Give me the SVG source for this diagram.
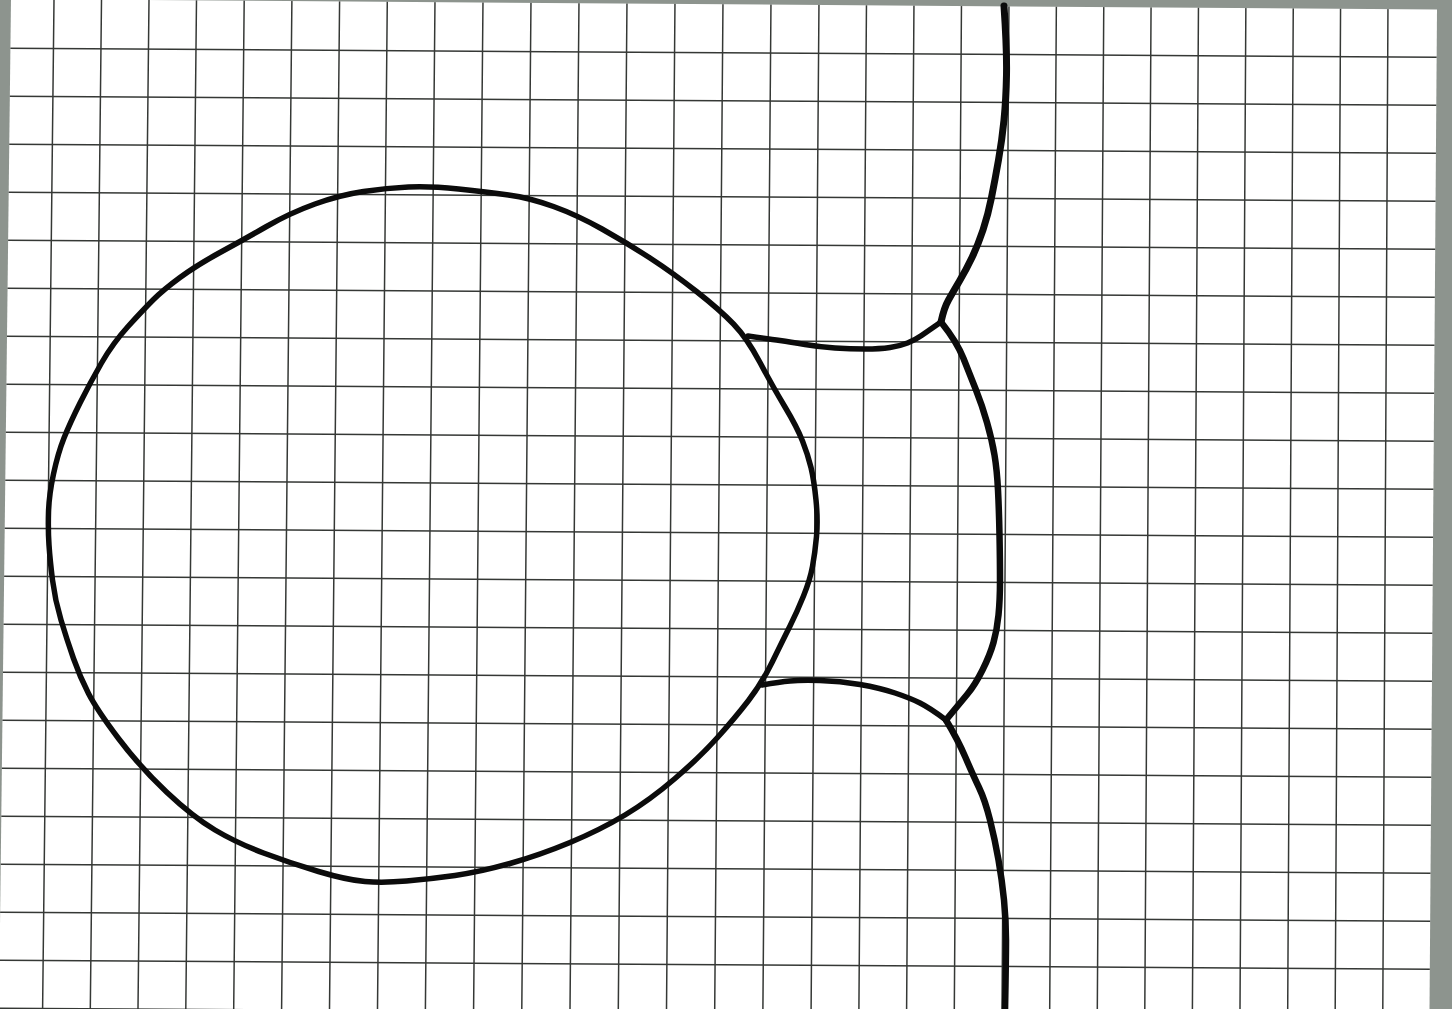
<svg xmlns="http://www.w3.org/2000/svg" width="1452" height="1009" viewBox="0 0 1452 1009">
<style>
.grid{fill:none;stroke:#353835;stroke-width:1.5}
.ink{fill:none;stroke:#0b0b0b;stroke-linecap:round;stroke-linejoin:round}
</style>
<defs>
<clipPath id="paperClip"><polygon points="11,-1 1437,9.5 1429.5,1010 -1,1010"/></clipPath>
</defs>
<rect id="background" x="0" y="0" width="1452" height="1009" fill="#8d948e"/>
<g id="paper">
<polygon points="11,-1 1437,9.5 1429.5,1010 -1,1010" fill="#ffffff"/>
<g id="grid" clip-path="url(#paperClip)">
<path class="grid" d="M54,0L42.6,1009M101.5,0L90.3,1009M149,0L138,1009M196.5,0L185.8,1009M244.2,0L233.7,1009M291.9,0L281.6,1009M339.6,0L329.5,1009M387.3,0L377.5,1009M435,0L425.4,1009M483,0L473.6,1009M531,0L521.8,1009M579,0L570,1009M627,0L618.3,1009M675,0L666.5,1009M723,0L714.7,1009M771,0L762.9,1009M819,0L811.1,1009M866.5,0L858.9,1009M914,0L906.6,1009M961.5,0L954.3,1009M1009,0L1002,1009M1056.4,0L1049.7,1009M1103.8,0L1097.3,1009M1151.1,0L1144.8,1009M1198.5,0L1192.4,1009M1245.9,0L1240,1009M1293.3,0L1287.7,1009M1340.6,0L1335.2,1009M1388,0L1382.8,1009"/>
<path class="grid" d="M0,48.2L1452,57.3M0,96.2L1452,105.3M0,144.2L1452,153.3M0,192.2L1452,201.3M0,240.2L1452,249.3M0,288.2L1452,297.3M0,336.2L1452,345.3M0,384.2L1452,393.3M0,432.2L1452,441.3M0,480.2L1452,489.3M0,528.2L1452,537.3M0,576.2L1452,585.3M0,624.2L1452,633.3M0,672.2L1452,681.3M0,720.2L1452,729.3M0,768.2L1452,777.3M0,816.2L1452,825.3M0,864.2L1452,873.3M0,912.2L1452,921.3M0,960.2L1452,969.3M0,1008.2L1452,1017.3"/>
</g>
</g>
<g id="drawing">
<path id="big-cell" class="ink" stroke-width="5.5" d="M408.5,187 Q430,186 458.5,189 Q487,192 508.5,195 Q530,198 553.5,206.5 Q577,215 602,229 Q627,243 650,258 Q673,273 696.5,291.5 Q720,310 733.5,324 Q747,338 760,362.5 Q773,387 785,407 Q797,427 802.5,441 Q808,455 811,467.5 Q814,480 816,500 Q818,520 816.5,536.5 Q815,553 812.5,566.5 Q810,580 803.5,596 Q797,612 790,626 Q783,640 772.5,661.5 Q762,683 748.5,700.5 Q735,718 717.5,737.5 Q700,757 675,778.5 Q650,800 625,815 Q600,830 570,842.5 Q540,855 510,863.5 Q480,872 455,875.5 Q430,879 406.5,881 Q383,883 365,881.5 Q347,880 318.5,871.5 Q290,863 263.5,853 Q237,843 215,830 Q193,817 166.5,792 Q140,767 118.5,738.5 Q97,710 88.5,693.5 Q80,677 73.5,658.5 Q67,640 61,620 Q55,600 52.5,580 Q50,560 49,545 Q48,530 48.5,512.5 Q49,495 53.5,474 Q58,453 64,438 Q70,423 80,403 Q90,383 101.5,363 Q113,343 128,326.5 Q143,310 153,300 Q163,290 180,277.5 Q197,265 220,252.5 Q243,240 266.5,226.5 Q290,213 315,204 Q340,195 363.5,191.5 Q387,188 408.5,187 Z"/>
<path id="upper-wall" class="ink" stroke-width="7" d="M1004,6 Q1007,50 1006.5,75 Q1006,100 1004,120 Q1002,140 998.5,160 Q995,180 991.5,197.5 Q988,215 983,230 Q978,245 972,257.5 Q966,270 959.5,281 Q953,292 948.5,300 Q944,308 941,322"/>
<path id="upper-link" class="ink" stroke-width="5.5" d="M941,322 Q928,331 921.5,335.5 Q915,340 907.5,343 Q900,346 890,347.5 Q880,349 865,349 Q850,349 835,348 Q820,347 805,344.5 Q790,342 780,340.5 Q770,339 748,336"/>
<path id="middle-wall" class="ink" stroke-width="6.5" d="M941,322 Q957,342 963.5,358.5 Q970,375 976,390 Q982,405 987,422.5 Q992,440 994.5,455 Q997,470 998,490 Q999,510 999.5,535 Q1000,560 1000,580 Q1000,600 998.5,615 Q997,630 993.5,642.5 Q990,655 982.5,670 Q975,685 967.5,694 Q960,703 946,720"/>
<path id="lower-link" class="ink" stroke-width="5.5" d="M946,720 Q930,708 920,703 Q910,698 895,693 Q880,688 860,684.5 Q840,681 820,680.5 Q800,680 790,681 Q780,682 762,685"/>
<path id="lower-wall" class="ink" stroke-width="6.5" d="M946,720 Q958,740 965.5,757.5 Q973,775 979,787.5 Q985,800 990,820 Q995,840 998.5,860 Q1002,880 1004,900 Q1006,920 1006,940 Q1006,960 1005,1012"/>
</g>
</svg>
